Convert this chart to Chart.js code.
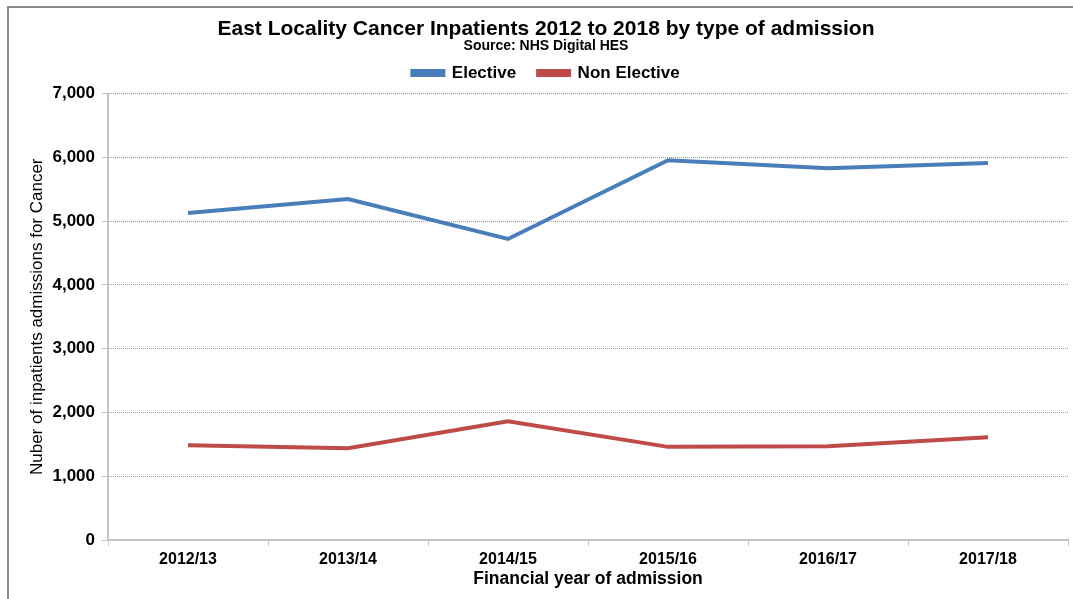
<!DOCTYPE html>
<html>
<head>
<meta charset="utf-8">
<title>East Locality Cancer Inpatients</title>
<script src="https://cdn.jsdelivr.net/npm/chart.js@4.4.1/dist/chart.umd.min.js"></script>
<style>
  html, body { margin: 0; padding: 0; background: #fff; }
  #wrap { width: 1073px; height: 599px; position: relative; }
</style>
</head>
<body>
<div id="wrap"><canvas id="myChart" width="1073" height="599"></canvas></div>
<script>
// financial years and admissions per type
var years = ['2012/13', '2013/14', '2014/15', '2015/16', '2016/17', '2017/18'];
var elective = [5125, 5345, 4720, 5955, 5830, 5910];
var nonElective = [1485, 1440, 1860, 1460, 1470, 1610];
var yTicks = [0, 1000, 2000, 3000, 4000, 5000, 6000, 7000];

var FONT = '"Liberation Sans", Arial, sans-serif';

function plot() {
    const ctx = document.getElementById('myChart').getContext('2d');

    // grey frame round the whole chart
    const framePlugin = {
        id: 'frame',
        beforeDraw: (chart) => {
            const c = chart.ctx;
            c.save();
            c.fillStyle = '#ffffff';
            c.fillRect(0, 0, chart.width, chart.height);
            c.strokeStyle = '#8c8c8c';
            c.lineWidth = 2;
            c.strokeRect(8, 7, chart.width + 20, chart.height + 20);
            c.restore();
        }
    };

    const data = {
        labels: years,
        datasets: [{
            label: 'Elective',
            data: elective,
            xAxisID: 'x',
            yAxisID: 'y',
            borderColor: '#4a7ebb',
            backgroundColor: '#4a7ebb',
            borderWidth: 4,
            pointRadius: 0,
            tension: 0
        }, {
            label: 'Non Elective',
            data: nonElective,
            xAxisID: 'x',
            yAxisID: 'y',
            borderColor: '#be4b48',
            backgroundColor: '#be4b48',
            borderWidth: 4,
            pointRadius: 0,
            tension: 0
        }]
    };

    const config = {
        type: 'line',
        data: data,
        options: {
            responsive: false,
            animation: false,
            layout: { padding: { left: 24, right: 5, top: 0, bottom: 0 } },
            plugins: {
                title: {
                    display: true,
                    text: 'East Locality Cancer Inpatients 2012 to 2018 by type of admission',
                    color: '#000',
                    font: { family: FONT, size: 21, weight: 'bold', lineHeight: 1 },
                    padding: { top: 18.5, bottom: 0 }
                },
                subtitle: {
                    display: true,
                    text: 'Source: NHS Digital HES',
                    color: '#000',
                    font: { family: FONT, size: 14, weight: 'bold', lineHeight: 1 },
                    padding: { top: -0.5, bottom: -10.5 }
                },
                legend: {
                    display: true,
                    labels: {
                        color: '#000',
                        font: { family: FONT, size: 17, weight: 'bold' },
                        boxWidth: 31,
                        boxHeight: 4,
                        padding: 22
                    }
                },
                tooltip: { enabled: false }
            },
            scales: {
                x: {
                    offset: true,
                    grid: {
                        display: true,
                        drawOnChartArea: false,
                        drawTicks: true,
                        tickLength: 6,
                        color: '#c4c4c4',
                        offset: true
                    },
                    border: { display: true, color: '#c4c4c4', width: 2 },
                    ticks: {
                        color: '#000',
                        font: { family: FONT, size: 16, weight: 'bold' },
                        padding: 4,
                        maxRotation: 0
                    },
                    title: {
                        display: true,
                        text: 'Financial year of admission',
                        color: '#000',
                        font: { family: FONT, size: 17.5, weight: 'bold' },
                        padding: { top: 0, bottom: 9 }
                    },
                    afterFit: (scale) => { scale.height = 59; }
                },
                y: {
                    min: 0,
                    max: 7000,
                    afterBuildTicks: (scale) => {
                        scale.ticks = yTicks.map(v => ({ value: v }));
                    },
                    grid: {
                        color: '#9a9a9a',
                        lineWidth: 1,
                        drawTicks: true,
                        tickLength: 6,
                        tickColor: '#c4c4c4'
                    },
                    border: { display: true, color: '#c4c4c4', width: 2, dash: [1, 1] },
                    ticks: {
                        color: '#000',
                        font: { family: FONT, size: 17, weight: 'bold' },
                        padding: 7,
                        callback: (v) => v.toLocaleString('en-GB')
                    },
                    title: {
                        display: true,
                        text: 'Nuber of inpatients admissions for Cancer',
                        color: '#000',
                        font: { family: FONT, size: 17 },
                        padding: { top: 3, bottom: 0 }
                    },
                    afterFit: (scale) => { scale.width = 84; }
                },
                // empty strip that keeps the plot clear of the legend
                gap: {
                    type: 'category',
                    position: 'top',
                    display: true,
                    offset: true,
                    grid: { display: false, drawTicks: false },
                    border: { display: false },
                    ticks: { display: false },
                    afterFit: (scale) => { scale.height = 2; }
                }
            }
        },
        plugins: [framePlugin]
    };

    if (typeof plot.myChart === 'undefined' || plot.myChart === null) {
        plot.myChart = new Chart(ctx, config);
    } else {
        plot.myChart.destroy();
        plot.myChart = new Chart(ctx, config);
    }
}

plot();
</script>
</body>
</html>
